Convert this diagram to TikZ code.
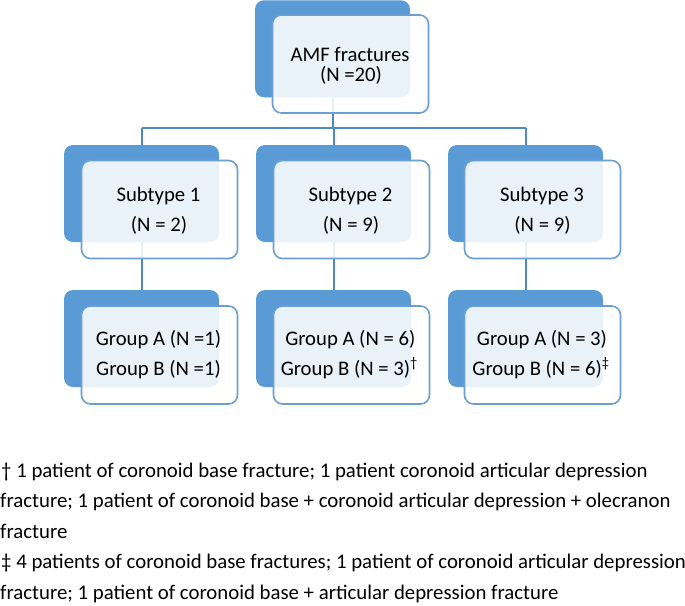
\documentclass[tikz,border=0pt]{standalone}
\usepackage{fontspec}
\setmainfont{Carlito}
\definecolor{darkblue}{HTML}{5B9BD5}
\definecolor{edgeblue}{HTML}{6A9FD4}
\definecolor{linkblue}{HTML}{4F88C6}
\begin{document}
\begin{tikzpicture}[x=1pt,y=-1pt,
  backbox/.style={rectangle, rounded corners=9pt, fill=darkblue, draw=none,
    minimum width=155pt, minimum height=97pt, inner sep=0pt, outer sep=0pt},
  frontbox/.style={rectangle, rounded corners=9pt, fill=white, fill opacity=0.87,
    draw=edgeblue, draw opacity=1, line width=1.6pt,
    minimum width=156pt, minimum height=98pt, inner sep=0pt, outer sep=0pt},
  boxtext/.style={anchor=base, inner sep=0pt, font=\fontsize{20.7}{24}\selectfont},
  foot/.style={anchor=base west, inner sep=0pt, font=\fontsize{20.8}{24}\selectfont},
  link/.style={draw=linkblue, line width=2pt}]
\useasboundingbox (0,0) rectangle (685,605);

% back boxes
\node[backbox] (b0) at (332.5,48.75) {};
\node[backbox] (s1) at (141.5,193.5) {};
\node[backbox] (s2) at (333.5,193.5) {};
\node[backbox] (s3) at (525.5,193.5) {};
\node[backbox] (g1) at (141.5,338.5) {};
\node[backbox] (g2) at (333.5,338.5) {};
\node[backbox] (g3) at (525.5,338.5) {};

% connectors
\coordinate (h1) at (141.5,128);
\coordinate (h2) at (332.5,128);
\coordinate (h3) at (525.5,128);
\draw[link] (b0.south) -- (h2);
\draw[link] (h1) -- (h3);
\draw[link] (h1) -- (s1.north);
\draw[link] (s2.north |- h2) -- (s2.north);
\draw[link] (h3) -- (s3.north);
\draw[link] (s1.south) -- (g1.north);
\draw[link] (s2.south) -- (g2.north);
\draw[link] (s3.south) -- (g3.north);

% front boxes
\node[frontbox] (f0) at (350.5,64) {};
\node[frontbox] (fs1) at (159.5,209.5) {};
\node[frontbox] (fs2) at (351.5,209.5) {};
\node[frontbox] (fs3) at (542.5,209.5) {};
\node[frontbox] (fg1) at (159.5,355) {};
\node[frontbox] (fg2) at (351.5,355) {};
\node[frontbox] (fg3) at (542.5,355) {};

% texts
\node[boxtext] (t0a) at (350,61.7) {AMF fractures};
\node[boxtext] (t0b) at (351,81.7) {(N =20)};
\node[boxtext] (ts1a) at (158.5,201.7) {Subtype 1};
\node[boxtext] (ts1b) at (159,231.7) {(N = 2)};
\node[boxtext] (ts2a) at (350.5,201.7) {Subtype 2};
\node[boxtext] (ts2b) at (351,231.7) {(N = 9)};
\node[boxtext] (ts3a) at (542,201.7) {Subtype 3};
\node[boxtext] (ts3b) at (542.5,231.7) {(N = 9)};
\node[boxtext] (tg1a) at (158.5,345) {Group A (N =1)};
\node[boxtext] (tg1b) at (158.5,375.5) {Group B (N =1)};
\node[boxtext] (tg2a) at (350.3,345) {Group A (N = 6)};
\node[boxtext] (tg2b) at (349.3,375.5) {Group B (N = 3)\textsuperscript{†}};
\node[boxtext] (tg3a) at (542,345) {Group A (N = 3)};
\node[boxtext] (tg3b) at (541,375.5) {Group B (N = 6)\textsuperscript{‡}};

% footnotes
\node[foot] (n1) at (1,477) {† 1 patient of coronoid base fracture; 1 patient coronoid articular depression};
\node[foot] (n2) at (0,507.5) {fracture; 1 patient of coronoid base + coronoid articular depression + olecranon};
\node[foot] (n3) at (0,538) {fracture};
\node[foot] (n4) at (1,568.5) {‡ 4 patients of coronoid base fractures; 1 patient of coronoid articular depression};
\node[foot] (n5) at (0,599) {fracture; 1 patient of coronoid base + articular depression fracture};
\end{tikzpicture}
\end{document}
